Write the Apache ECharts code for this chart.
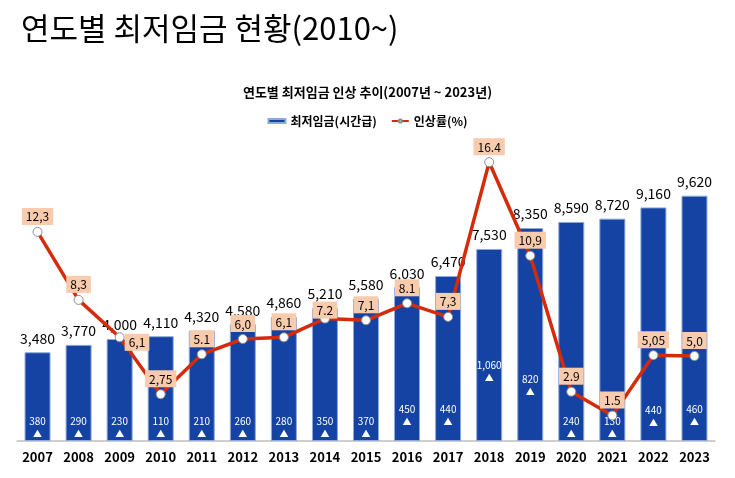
<!DOCTYPE html>
<html><head><meta charset="utf-8">
<script src="https://cdn.jsdelivr.net/npm/echarts@6/dist/echarts.min.js"></script>
<style>html,body{margin:0;padding:0;background:#fff}#c{width:735px;height:478px}</style>
</head><body><div id="c"></div>
<script>
const years = ['2007','2008','2009','2010','2011','2012','2013','2014','2015','2016','2017','2018','2019','2020','2021','2022','2023'];
const wage = [3480,3770,4000,4110,4320,4580,4860,5210,5580,6030,6470,7530,8350,8590,8720,9160,9620];
const increase = [380,290,230,110,210,260,280,350,370,450,440,1060,820,240,130,440,460];
const rate = [12.3,8.3,6.1,2.75,5.1,6.0,6.1,7.2,7.1,8.1,7.3,16.4,10.9,2.9,1.5,5.05,5.0];
const rateText = ['12,3','8,3','6,1','2,75','5.1','6,0','6,1','7.2','7,1','8.1','7,3','16.4','10,9','2.9','1.5','5,05','5,0'];

const FONT = 'Noto Sans CJK KR';
const incLift = {9:12,10:12,11:56,12:42,15:11,16:12};
const rateLabelOverride = {2:{position:'right',offset:[-2,5]},7:{offset:[0,7]}};
const fmt = v => v.toLocaleString('en-US');

const chart = echarts.init(document.getElementById('c'));
chart.setOption({
  animation:false,
  textStyle:{fontFamily:FONT},
  title:[
    {text:'연도별 최저임금 현황(2010~)',left:16,top:8,textStyle:{fontFamily:FONT,fontSize:31,fontWeight:'normal',color:'#000'}},
    {text:'연도별 최저임금 인상 추이(2007년 ~ 2023년)',left:'center',top:81,textStyle:{fontFamily:FONT,fontSize:13,fontWeight:'bold',color:'#000'}}
  ],
  legend:{top:110,left:'center',itemGap:14,itemWidth:17,itemHeight:4,
    textStyle:{fontFamily:FONT,fontSize:12,fontWeight:'bold',color:'#000'},
    data:[{name:'최저임금(시간급)',icon:'rect'},{name:'인상률(%)'}]},
  grid:{left:17,right:20,top:135,bottom:37},
  xAxis:{type:'category',data:years,axisTick:{show:false},
    axisLine:{lineStyle:{color:'#bfbfbf',width:1.5}},
    axisLabel:{fontFamily:FONT,fontSize:13,fontWeight:'bold',color:'#000',margin:10}},
  yAxis:[{type:'value',min:0,max:12000,show:false,splitLine:{show:false}},
         {type:'value',min:0,max:18,show:false,splitLine:{show:false}}],
  series:[
    {name:'최저임금(시간급)',type:'bar',data:wage,barWidth:26,
      itemStyle:{color:'#1443a3',borderColor:'#8eaadb',borderWidth:1},
      label:{show:true,position:'top',distance:7,fontFamily:FONT,fontSize:14,color:'#000',formatter:p=>fmt(p.value)}},
    {name:'inc',type:'bar',barGap:'-100%',barWidth:26,
      data:increase.map((v,i)=>({value:wage[i],label:{offset:[0,-(incLift[i]||0)]}})),
      itemStyle:{color:'rgba(0,0,0,0)'},silent:true,
      label:{show:true,position:'insideBottom',distance:1,
        formatter:p=>'{v|'+fmt(increase[p.dataIndex])+'}\n{t|▲}',
        rich:{v:{fontFamily:FONT,fontSize:10,color:'#fff',lineHeight:14},
              t:{fontFamily:FONT,fontSize:9,color:'#fff',lineHeight:12}}}},
    {name:'인상률(%)',type:'line',yAxisIndex:1,data:rate.map((v,i)=>rateLabelOverride[i]?{value:v,label:rateLabelOverride[i]}:{value:v}),z:5,
      lineStyle:{color:'#d52b0b',width:3.5},itemStyle:{color:'#fff',borderColor:'#8c8c8c',borderWidth:1},
      symbol:'circle',symbolSize:9,
      label:{show:true,position:'top',distance:2,formatter:p=>rateText[p.dataIndex],
        fontFamily:FONT,fontSize:12,color:'#000',backgroundColor:'#f8cbad',padding:[3,4,2,4]}}
  ]
});
</script></body></html>
